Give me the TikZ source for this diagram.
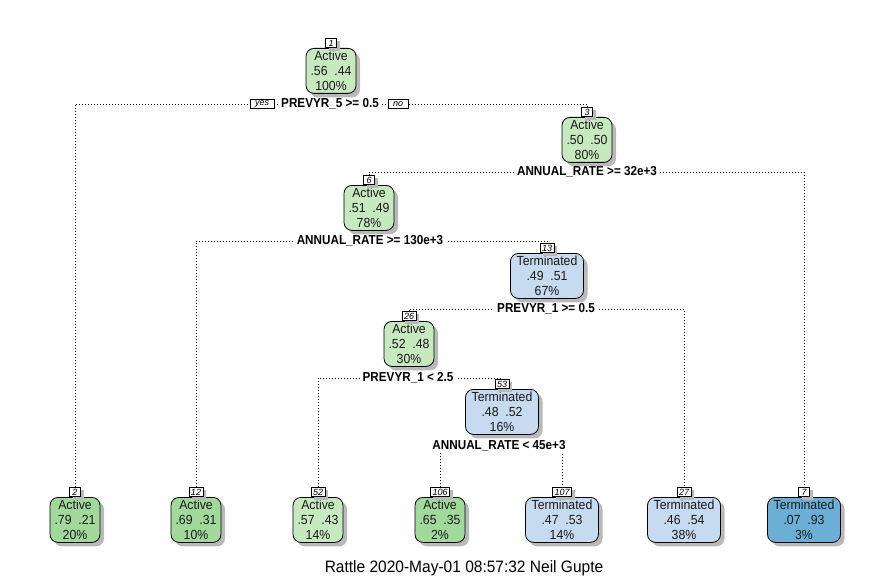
\documentclass[tikz,border=0pt]{standalone}
\usepackage{fontspec}
\setmainfont{Liberation Sans}
\newfontfamily\nodefont[FakeStretch=0.93]{Liberation Sans}
\newfontfamily\splitfont[FakeStretch=0.9]{Liberation Sans}
\newfontfamily\capfont[FakeStretch=0.94]{Liberation Sans}
\usetikzlibrary{shadows,backgrounds}
\definecolor{gl}{HTML}{C7E9C0}
\definecolor{gm}{HTML}{A1D99B}
\definecolor{bl}{HTML}{C6DBEF}
\definecolor{bd}{HTML}{6BAED6}
\definecolor{shd}{RGB}{185,185,185}
\begin{document}
\begin{tikzpicture}[x=1pt,y=-1pt,
  box/.style={draw, line width=0.8pt, rounded corners=8pt, minimum height=45pt,
    inner sep=1pt, anchor=north, align=center, text=black!90,
    font=\nodefont\fontsize{13.2}{14.8}\selectfont,
    drop shadow={shadow xshift=4pt, shadow yshift=-4pt, fill=shd, opacity=1}},
  act/.style={box, minimum width=50pt},
  ter/.style={box, minimum width=73pt},
  num/.style={draw, fill=white, line width=0.6pt, inner xsep=2pt, inner ysep=0.5pt,
    anchor=south, font=\fontsize{9}{9}\selectfont\itshape, minimum height=9.5pt,
    minimum width=11pt,
    drop shadow={shadow xshift=3pt, shadow yshift=-3pt, fill=shd, opacity=1}},
  split/.style={fill=white, inner xsep=3pt, inner ysep=1pt, font=\splitfont\fontsize{13}{13}\selectfont\bfseries},
  yn/.style={draw, fill=white, line width=0.6pt, inner xsep=5pt, inner ysep=0.5pt,
    minimum height=9.5pt, font=\fontsize{9}{9}\selectfont\itshape},
  dotl/.style={line width=0.9pt, dash pattern=on 0.9pt off 2.1pt}]
\useasboundingbox (0,0) rectangle (890,580);

% internal nodes
\node[act, fill=gl] (n1) at (331,48) {Active\\.56\ \ .44\\100\%};
\node[num] (l1) at (n1.north) {1};
\node[act, fill=gl] (n3) at (587,117) {Active\\.50\ \ .50\\80\%};
\node[num] (l3) at (n3.north) {3};
\node[act, fill=gl] (n6) at (369,185) {Active\\.51\ \ .49\\78\%};
\node[num] (l6) at (n6.north) {6};
\node[ter, fill=bl] (n13) at (547,253) {Terminated\\.49\ \ .51\\67\%};
\node[num] (l13) at (n13.north) {13};
\node[act, fill=gl] (n26) at (409,321) {Active\\.52\ \ .48\\30\%};
\node[num] (l26) at (n26.north) {26};
\node[ter, fill=bl] (n53) at (502,389) {Terminated\\.48\ \ .52\\16\%};
\node[num] (l53) at (n53.north) {53};

% leaves
\node[act, fill=gm] (n2) at (75,497) {Active\\.79\ \ .21\\20\%};
\node[num] (l2) at (n2.north) {2};
\node[act, fill=gm] (n12) at (196,497) {Active\\.69\ \ .31\\10\%};
\node[num] (l12) at (n12.north) {12};
\node[act, fill=gl] (n52) at (318,497) {Active\\.57\ \ .43\\14\%};
\node[num] (l52) at (n52.north) {52};
\node[act, fill=gm] (n106) at (440,497) {Active\\.65\ \ .35\\2\%};
\node[num] (l106) at (n106.north) {106};
\node[ter, fill=bl] (n107) at (562,497) {Terminated\\.47\ \ .53\\14\%};
\node[num] (l107) at (n107.north) {107};
\node[ter, fill=bl] (n27) at (684,497) {Terminated\\.46\ \ .54\\38\%};
\node[num] (l27) at (n27.north) {27};
\node[ter, fill=bd] (n7) at (804,497) {Terminated\\.07\ \ .93\\3\%};
\node[num] (l7) at (n7.north) {7};

% split labels
\node[split] (s1) at (330,104) {PREVYR\_5 >= 0.5};
\node[yn] (yes) at (262,104) {yes};
\node[yn] (no) at (398,104) {no};
\node[split] (s3) at (587,172) {ANNUAL\_RATE >= 32e+3};
\node[split] (s6) at (370,241) {ANNUAL\_RATE >= 130e+3};
\node[split] (s13) at (546,309) {PREVYR\_1 >= 0.5};
\node[split] (s26) at (408,378) {PREVYR\_1 < 2.5};
\node[split] (s53) at (499,446) {ANNUAL\_RATE < 45e+3};

\begin{pgfonlayer}{background}
\draw[dotl] (l2.north) |- (s1.center) -| (l3.north);
\draw[dotl] (l6.north) |- (s3.center) -| (l7.north);
\draw[dotl] (l12.north) |- (s6.center) -| (l13.north);
\draw[dotl] (l26.north) |- (s13.center) -| (l27.north);
\draw[dotl] (l52.north) |- (s26.center) -| (l53.north);
\draw[dotl] (l106.north) |- (s53.center) -| (l107.north);
\end{pgfonlayer}

\node[font=\capfont\fontsize{16.5}{18}\selectfont] (cap) at (464,568) {Rattle 2020-May-01 08:57:32 Neil Gupte};
\end{tikzpicture}
\end{document}
